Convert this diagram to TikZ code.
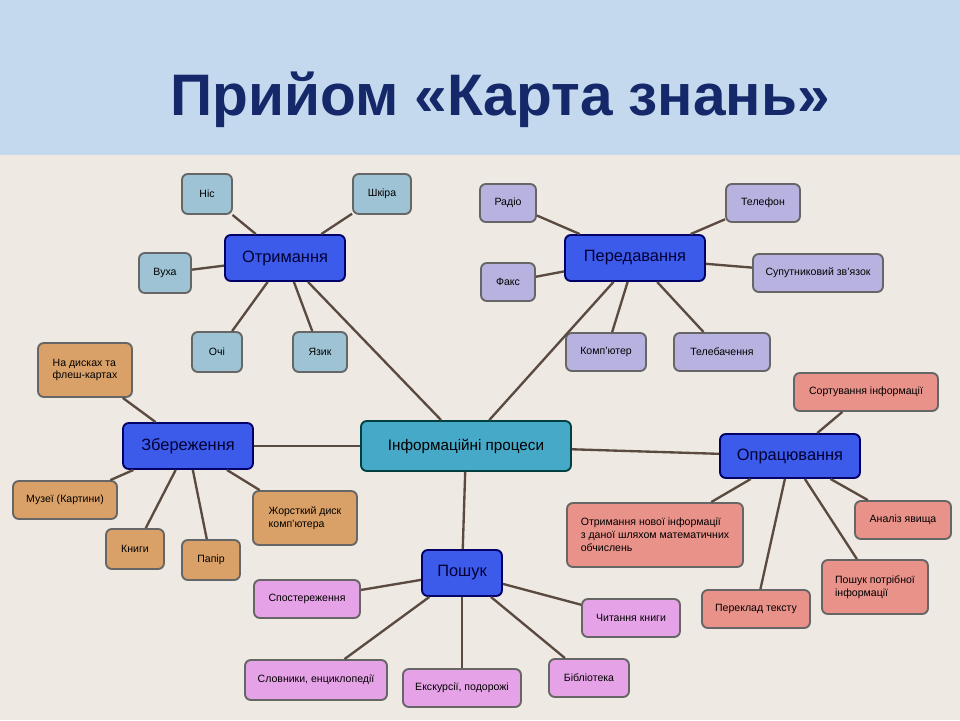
\documentclass[tikz,border=0pt]{standalone}
\usepackage{fontspec}
\setmainfont{Liberation Sans}
\usetikzlibrary{positioning}
\definecolor{bgtop}{HTML}{C5D9EE}
\definecolor{bgmain}{HTML}{EEEAE3}
\definecolor{titlec}{HTML}{14286A}
\definecolor{linkc}{HTML}{5A4A40}
\definecolor{mainc}{HTML}{3D5BEA}
\definecolor{centc}{HTML}{47A9C8}
\definecolor{otrc}{HTML}{9EC3D4}
\definecolor{perc}{HTML}{B8B2E0}
\definecolor{opc}{HTML}{E8928A}
\definecolor{zbc}{HTML}{D9A168}
\definecolor{poc}{HTML}{E6A2E6}
\begin{document}
\begin{tikzpicture}[x=0.03cm, y=-0.03cm]
      \tikzstyle{every node} = [inner sep = 2pt, align=left, font=\fontsize{9}{11}\selectfont];
      \tikzstyle{box} = [draw=black!60, line width=1.6pt, rounded corners=5pt];
      \tikzstyle{main} = [box, fill=mainc, draw=blue!40!black, font=\fontsize{14}{16}\selectfont, text=black!80!blue];
      \tikzstyle{link} = [linkc, line width=2pt];
      \fill[bgmain] (0,0) rectangle (960,720);
      \fill[bgtop] (0,0) rectangle (960,155);
      \node[font=\bfseries\fontsize{50}{56}\selectfont, text=titlec](title) at (500,100) {Прийом «Карта знань»};
      % centre
      \node[box, fill=centc, draw=teal!50!black, minimum width=210*0.03cm, minimum height=50*0.03cm, font=\fontsize{13}{15}\selectfont](inf) at (466,446) {Інформаційні процеси};
      % main topics
      \node[main, minimum width=120*0.03cm, minimum height=46*0.03cm](otr) at (285,258) {Отримання};
      \node[main, minimum width=140*0.03cm, minimum height=46*0.03cm](per) at (635,258) {Передавання};
      \node[main, minimum width=130*0.03cm, minimum height=46*0.03cm](zb) at (188,446) {Збереження};
      \node[main, minimum width=140*0.03cm, minimum height=44*0.03cm](op) at (790,456) {Опрацювання};
      \node[main, minimum width=80*0.03cm, minimum height=46*0.03cm](po) at (462,573) {Пошук};
      % leaves
      \node[box, fill=otrc, minimum width=50*0.03cm, minimum height=40*0.03cm](nis) at (207,194) {Ніс};
      \node[box, fill=otrc, minimum width=58*0.03cm, minimum height=40*0.03cm](shk) at (382,194) {Шкіра};
      \node[box, fill=otrc, minimum width=52*0.03cm, minimum height=40*0.03cm](vukh) at (165,273) {Вуха};
      \node[box, fill=otrc, minimum width=50*0.03cm, minimum height=40*0.03cm](och) at (217,352) {Очі};
      \node[box, fill=otrc, minimum width=54*0.03cm, minimum height=40*0.03cm](yaz) at (320,352) {Язик};
      \node[box, fill=perc, minimum width=56*0.03cm, minimum height=38*0.03cm](rad) at (508,203) {Радіо};
      \node[box, fill=perc, minimum width=74*0.03cm, minimum height=38*0.03cm](tel) at (763,203) {Телефон};
      \node[box, fill=perc, minimum width=54*0.03cm, minimum height=38*0.03cm](fax) at (508,282) {Факс};
      \node[box, fill=perc, minimum width=130*0.03cm, minimum height=38*0.03cm](sup) at (818,273) {Супутниковий зв'язок};
      \node[box, fill=perc, minimum width=80*0.03cm, minimum height=38*0.03cm](komp) at (606,352) {Комп'ютер};
      \node[box, fill=perc, minimum width=96*0.03cm, minimum height=38*0.03cm](tb) at (722,352) {Телебачення};
      \node[box, fill=opc, minimum width=144*0.03cm, minimum height=38*0.03cm](sort) at (866,392) {Сортування інформації};
      \node[box, fill=opc, minimum width=176*0.03cm, minimum height=64*0.03cm](otrym) at (655,535) {Отримання нової інформації\\з даної шляхом математичних\\обчислень};
      \node[box, fill=opc, minimum width=96*0.03cm, minimum height=38*0.03cm](an) at (903,520) {Аналіз явища};
      \node[box, fill=opc, minimum width=106*0.03cm, minimum height=54*0.03cm](potr) at (875,587) {Пошук потрібної\\інформації};
      \node[box, fill=opc, minimum width=108*0.03cm, minimum height=38*0.03cm](perek) at (756,609) {Переклад тексту};
      \node[box, fill=zbc, minimum width=94*0.03cm, minimum height=54*0.03cm](disk) at (85,370) {На дисках та\\флеш-картах};
      \node[box, fill=zbc, minimum width=104*0.03cm, minimum height=38*0.03cm](muz) at (65,500) {Музеї (Картини)};
      \node[box, fill=zbc, minimum width=58*0.03cm, minimum height=40*0.03cm](kn) at (135,549) {Книги};
      \node[box, fill=zbc, minimum width=58*0.03cm, minimum height=40*0.03cm](pap) at (211,560) {Папір};
      \node[box, fill=zbc, minimum width=104*0.03cm, minimum height=54*0.03cm](hdd) at (305,518) {Жорсткий диск\\комп'ютера};
      \node[box, fill=poc, minimum width=106*0.03cm, minimum height=38*0.03cm](spos) at (307,599) {Спостереження};
      \node[box, fill=poc, minimum width=98*0.03cm, minimum height=38*0.03cm](chyt) at (631,618) {Читання книги};
      \node[box, fill=poc, minimum width=142*0.03cm, minimum height=40*0.03cm](slov) at (316,680) {Словники, енциклопедії};
      \node[box, fill=poc, minimum width=118*0.03cm, minimum height=38*0.03cm](eksk) at (462,688) {Екскурсії, подорожі};
      \node[box, fill=poc, minimum width=80*0.03cm, minimum height=38*0.03cm](bib) at (589,678) {Бібліотека};
      % links
      \path[link]
      (inf) edge (otr) edge (per) edge (zb) edge (op) edge (po)
      (otr) edge (nis) edge (shk) edge (vukh) edge (och) edge (yaz)
      (per) edge (rad) edge (tel) edge (fax) edge (sup) edge (komp) edge (tb)
      (op) edge (sort) edge (otrym) edge (an) edge (potr) edge (perek)
      (zb) edge (disk) edge (muz) edge (kn) edge (pap) edge (hdd)
      (po) edge (spos) edge (chyt) edge (slov) edge (eksk) edge (bib);
\end{tikzpicture}
\end{document}
